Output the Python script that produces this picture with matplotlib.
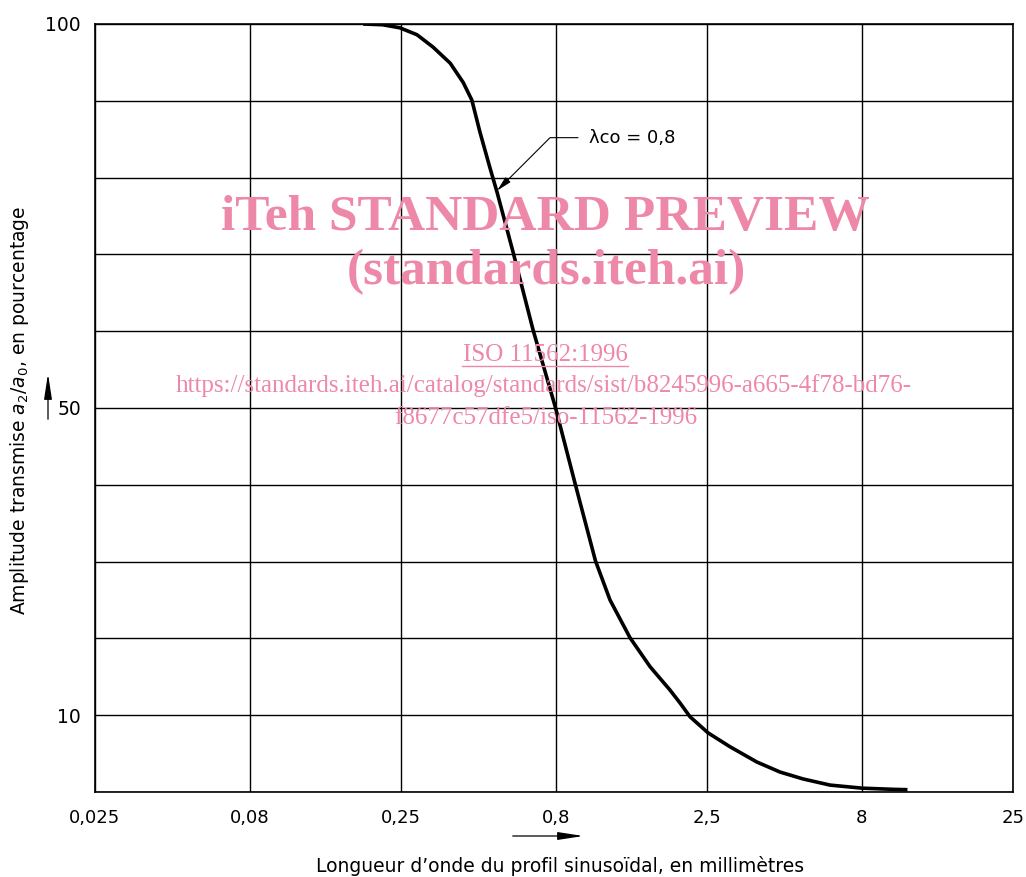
import numpy as np
import matplotlib.pyplot as plt
from matplotlib.patches import FancyArrowPatch

# valeurs (longueur d'onde en mm, amplitude en %)
wavelength = [0.188, 0.218, 0.248, 0.282, 0.318, 0.362, 0.399, 0.426, 0.453,
              0.488, 0.515, 0.581, 0.675, 0.8, 0.926, 1.08, 1.205, 1.40,
              1.63, 1.89, 2.04, 2.20, 2.52, 2.97, 3.64, 4.33, 5.15, 6.31,
              8.03, 10.1, 11.3]
amplitude = [100, 99.9, 99.5, 98.6, 97.0, 94.9, 92.4, 90.1, 85.9,
             81.3, 78.1, 70.3, 60.2, 50.0, 40.2, 30.1, 25.0, 20.1,
             16.3, 13.3, 11.6, 9.8, 7.7, 5.9, 3.9, 2.6, 1.7, 0.9,
             0.5, 0.35, 0.3]

x_ticks = [0.025, 0.08, 0.25, 0.8, 2.5, 8, 25]
x_labels = ["0,025", "0,08", "0,25", "0,8", "2,5", "8", "25"]
y_grid = list(range(0, 101, 10))
y_labels = {10: "10", 50: "50", 100: "100"}

plt.rcParams['font.family'] = ['DejaVu Sans']

fig = plt.figure(figsize=(10.26, 8.77), dpi=100)
ax = fig.add_axes([95/1026, 1 - 792/877, 918/1026, 768/877])

ax.set_xscale('log')
ax.set_xlim(0.025, 25)
ax.set_ylim(0, 100)
ax.set_xticks(x_ticks)
ax.set_xticklabels(x_labels, fontsize=13)
ax.xaxis.set_minor_locator(plt.NullLocator())
ax.set_yticks(y_grid)
ax.set_yticklabels([y_labels.get(v, "") for v in y_grid], fontsize=13.5)
ax.tick_params(length=0)
ax.tick_params(axis='x', pad=12)
ax.tick_params(axis='y', pad=10)
ax.grid(True, color='black', linewidth=1.0)
for s in ax.spines.values():
    s.set_linewidth(1.2)

ax.plot(wavelength, amplitude, color='black', linewidth=2.6,
        solid_joinstyle='round', solid_capstyle='butt', zorder=3)

# repere lambda co
ax.annotate("λco = 0,8", xy=(0.515, 78.3), xytext=(1.03, 85.2),
            fontsize=13, va='center', ha='left',
            arrowprops=dict(arrowstyle='-|>,head_length=0.7,head_width=0.16',
                            color='black', lw=0.8, shrinkA=6, shrinkB=0,
                            mutation_scale=13,
                            connectionstyle='angle,angleA=0,angleB=45,rad=0'))

# libelles des axes
fig.text(560/1026, 1 - 866/877, "Longueur d\u2019onde du profil sinusoïdal, en millimètres",
         ha='center', va='center', fontsize=13.5)
fig.text(20/1026, 1 - 410/877, r"Amplitude transmise $a_2/a_0$, en pourcentage",
         ha='center', va='center', rotation=90, fontsize=13.5)
fig.patches.append(FancyArrowPatch(
    (510/1026, 1 - 836/877), (586/1026, 1 - 836/877), transform=fig.transFigure,
    arrowstyle='-|>,head_length=1.1,head_width=0.17', mutation_scale=14,
    color='black', lw=0.9))
fig.patches.append(FancyArrowPatch(
    (48/1026, 1 - 422/877), (48/1026, 1 - 371/877), transform=fig.transFigure,
    arrowstyle='-|>,head_length=1.1,head_width=0.17', mutation_scale=14,
    color='black', lw=0.9))

# filigrane
pink = '#ee88a8'
wm = dict(ha='center', va='center', color=pink, family='Liberation Serif', zorder=5)
fig.text(545/1026, 1 - 218/877, "iTeh STANDARD PREVIEW", fontsize=37,
         fontweight='bold', **wm)
fig.text(546/1026, 1 - 272/877, "(standards.iteh.ai)", fontsize=37,
         fontweight='bold', **wm)
fig.text(545/1026, 1 - 355/877, "ISO 11562:1996", fontsize=18, **wm)
fig.text(544/1026, 1 - 386/877,
         "https://standards.iteh.ai/catalog/standards/sist/b8245996-a665-4f78-bd76-",
         fontsize=18, **wm)
fig.text(546/1026, 1 - 418/877, "f8677c57dfe5/iso-11562-1996", fontsize=18, **wm)
fig.lines.append(plt.Line2D([462/1026, 628/1026], [1 - 366/877, 1 - 366/877],
                            transform=fig.transFigure, color=pink, lw=1.0))

fig.savefig('out.png', dpi=100)
